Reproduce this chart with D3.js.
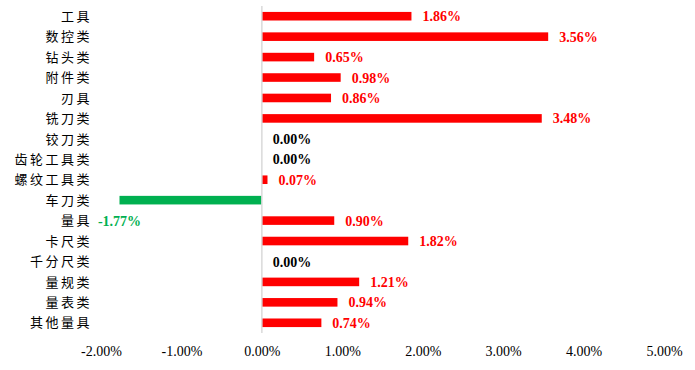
<!DOCTYPE html>
<html>
<head>
<meta charset="utf-8">
<script src="https://cdn.jsdelivr.net/npm/d3@7"></script>
<style>
  html, body { margin: 0; padding: 0; background: #fff; }
</style>
</head>
<body>
<div id="chart"></div>
<script>
const categories = ["工具", "数控类", "钻头类", "附件类", "刃具", "铣刀类", "铰刀类", "齿轮工具类",
  "螺纹工具类", "车刀类", "量具", "卡尺类", "千分尺类", "量规类", "量表类", "其他量具"];
const values = [1.86, 3.56, 0.65, 0.98, 0.86, 3.48, 0.00, 0.00, 0.07, -1.77, 0.90, 1.82, 0.00, 1.21, 0.94, 0.74];
const xTicks = [-2, -1, 0, 1, 2, 3, 4, 5];

const W = 695, H = 370;
const margin = { top: 6, right: 31, bottom: 37, left: 101 };
const innerW = W - margin.left - margin.right;
const innerH = H - margin.top - margin.bottom;

const red = "#ff0000";
const green = "#00b050";
const fmt = (v) => v.toFixed(2) + "%";

const svg = d3.select("#chart").append("svg").attr("width", W).attr("height", H);
const g = svg.append("g").attr("transform", `translate(${margin.left},${margin.top})`);

const x = d3.scaleLinear().domain([-2, 5]).range([0, innerW]);
const y = d3.scaleBand().domain(categories).range([0, innerH]).paddingInner(0.58).paddingOuter(0.29);

const rows = categories.map((c, i) => ({ cat: c, value: values[i], i }));

// X axis labels only (no line, no ticks)
g.append("g")
  .attr("transform", `translate(0,${innerH})`)
  .call(d3.axisBottom(x).tickValues(xTicks).tickFormat((d) => d.toFixed(2) + "%").tickSize(0).tickPadding(13))
  .call((a) => a.select(".domain").remove())
  .call((a) => a.selectAll(".tick text")
    .attr("fill", "#000")
    .attr("font-family", "'Liberation Serif', 'Times New Roman', serif")
    .attr("font-size", "14px"));

// Bars
g.selectAll(".bar")
  .data(rows)
  .join("rect")
  .attr("class", "bar")
  .attr("x", (d) => x(Math.min(0, d.value)))
  .attr("width", (d) => Math.abs(x(d.value) - x(0)))
  .attr("y", (d) => y(d.cat))
  .attr("height", y.bandwidth())
  .attr("fill", (d) => d.value < 0 ? green : red);

// Zero line
g.append("line")
  .attr("x1", x(0)).attr("x2", x(0))
  .attr("y1", 0).attr("y2", innerH)
  .attr("stroke", "#d9d9d9")
  .attr("stroke-width", 1.5);

// Category labels
g.selectAll(".cat")
  .data(rows)
  .join("text")
  .attr("class", "cat")
  .attr("x", -9)
  .attr("y", (d) => y(d.cat) + y.bandwidth() / 2)
  .attr("dy", "0.36em")
  .attr("text-anchor", "end")
  .attr("font-family", "'Noto Sans CJK SC', sans-serif")
  .attr("font-size", "13px")
  .attr("letter-spacing", "2.5px")
  .attr("fill", "#000")
  .text((d) => d.cat);

// Value labels (negative label sits one row below, as in the source)
const step = y.step();
g.selectAll(".val")
  .data(rows)
  .join("text")
  .attr("class", "val")
  .attr("x", (d) => d.value < 0 ? x(d.value) : x(d.value) + 11)
  .attr("y", (d) => y(d.cat) + y.bandwidth() / 2 + (d.value < 0 ? step : 0))
  .attr("dy", "0.36em")
  .attr("text-anchor", (d) => d.value < 0 ? "middle" : "start")
  .attr("font-family", "'Liberation Serif', 'Times New Roman', serif")
  .attr("font-weight", "bold")
  .attr("font-size", "14px")
  .attr("fill", (d) => d.value < 0 ? green : d.value === 0 ? "#000" : red)
  .text((d) => fmt(d.value));
</script>
</body>
</html>
